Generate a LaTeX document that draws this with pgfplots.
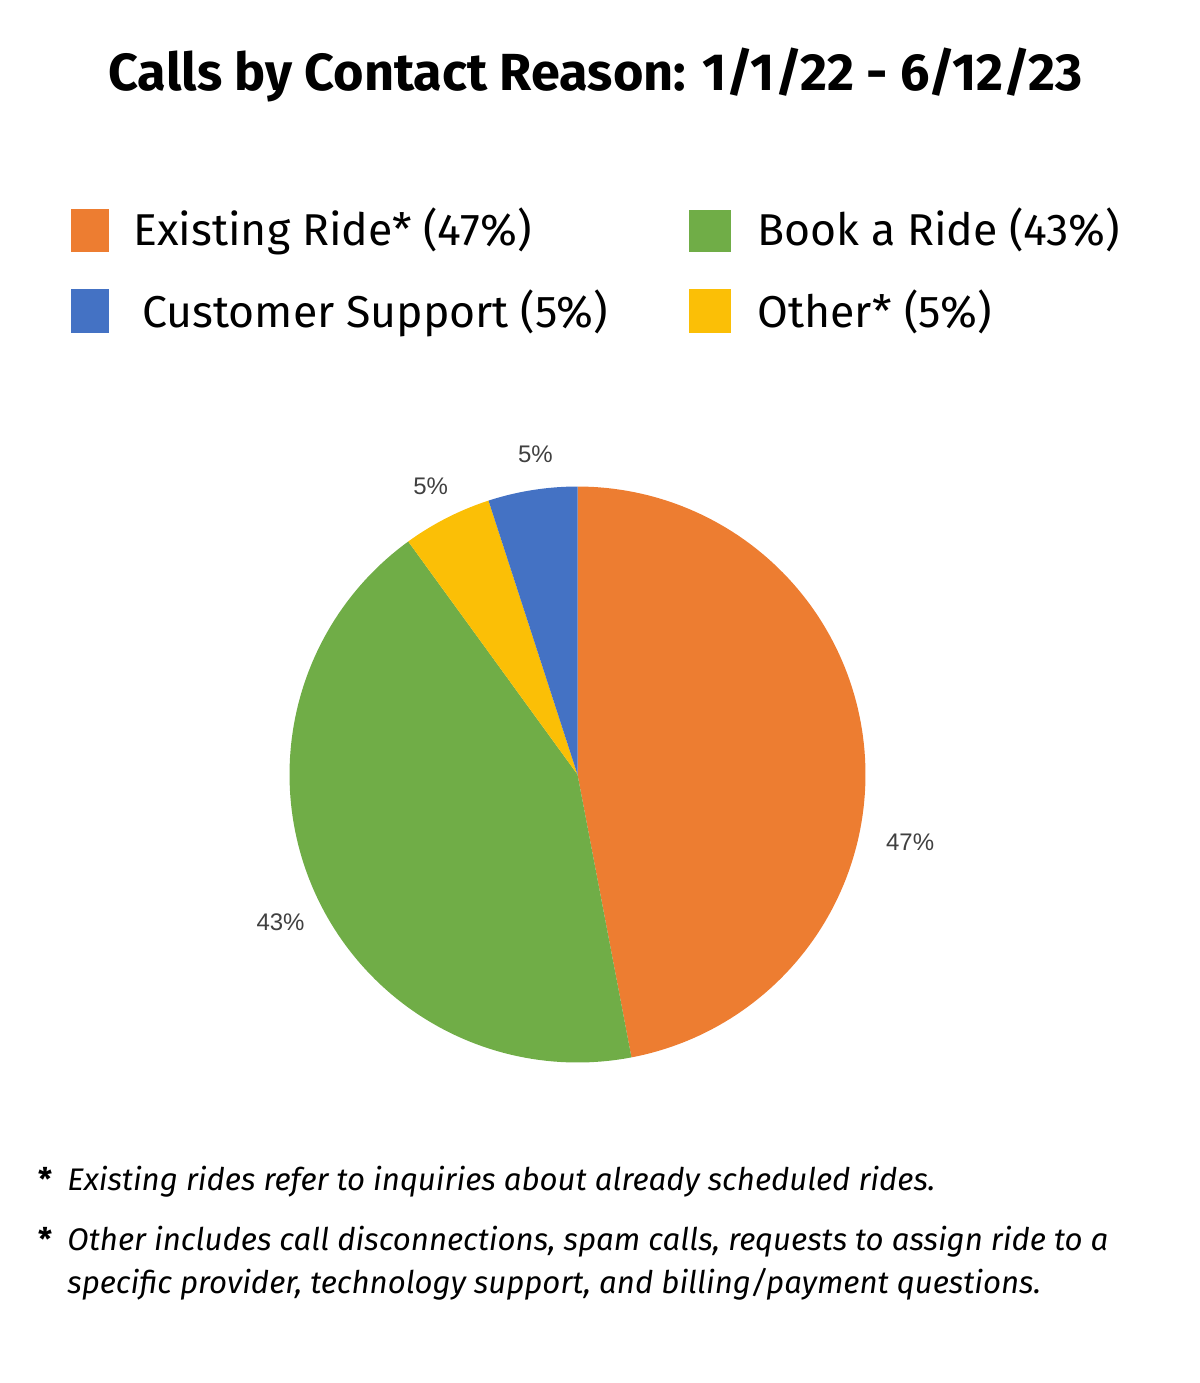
\documentclass[border=0pt]{standalone}
\usepackage{fontspec}
\setmainfont{Fira Sans}
\newfontfamily\labfont{Liberation Sans}
\usepackage{pgfplots}
\pgfplotsset{compat=1.18}
\definecolor{cOrange}{HTML}{ED7D31}
\definecolor{cGreen}{HTML}{70AD47}
\definecolor{cBlue}{HTML}{4472C4}
\definecolor{cYellow}{HTML}{FBBF06}
\definecolor{cLab}{HTML}{404040}
% values (percent)
\def\vExisting{47}
\def\vBook{43}
\def\vOther{5}
\def\vSupport{5}
\begin{document}
\begin{tikzpicture}
\path (0,0) rectangle (600bp,-691.5bp);
% title
\node[anchor=base, inner sep=0pt, font=\fontsize{26.1bp}{30bp}\selectfont\bfseries] at (297.75bp,-45bp) {Calls by Contact Reason: 1/1/22 - 6/12/23};
% legend
\fill[cOrange] (35.5bp,-104.5bp) rectangle (54.5bp,-126bp);
\fill[cBlue] (35.5bp,-144.5bp) rectangle (54.5bp,-166.5bp);
\fill[cGreen] (344.5bp,-105bp) rectangle (365.5bp,-126bp);
\fill[cYellow] (344.5bp,-144.5bp) rectangle (365.5bp,-166.5bp);
\begin{scope}[every node/.style={anchor=base west, inner sep=0pt, font=\fontsize{22.3bp}{26bp}\selectfont}]
\node at (66.5bp,-122.5bp) {Existing Ride* (47\%)};
\node at (71bp,-163.5bp) {Customer Support (5\%)};
\node at (378.5bp,-122.5bp) {Book a Ride (43\%)};
\node at (378.5bp,-163.5bp) {Other* (5\%)};
\end{scope}
% footnotes
\begin{scope}[every node/.style={anchor=base west, inner sep=0pt, font=\fontsize{15.6bp}{18bp}\selectfont\itshape}]
\node[font=\fontsize{15.6bp}{18bp}\selectfont\bfseries\upshape] at (19bp,-595bp) {*};
\node at (33.5bp,-595bp) {Existing rides refer to inquiries about already scheduled rides.};
\node[font=\fontsize{15.6bp}{18bp}\selectfont\bfseries\upshape] at (19bp,-625bp) {*};
\node at (33.5bp,-625bp) {Other includes call disconnections, spam calls, requests to assign ride to a};
\node at (33.5bp,-646.5bp) {specific provider, technology support, and billing/payment questions.};
\end{scope}
\pgfmathsetmacro{\aA}{90}
\pgfmathsetmacro{\aB}{\aA-3.6*\vExisting}
\pgfmathsetmacro{\aC}{\aB-3.6*\vBook}
\pgfmathsetmacro{\aD}{\aC-3.6*\vOther}
\pgfmathsetmacro{\aE}{\aD-3.6*\vSupport}
\begin{axis}[at={(288.75bp,-387.25bp)}, anchor=center, width=288bp, height=288bp,
  scale only axis, xmin=-1, xmax=1, ymin=-1, ymax=1, hide axis, clip=false]
\addplot[fill=cOrange, draw=none, domain=\aB:\aA, samples=120, variable=\t] ({cos(\t)},{sin(\t)}) -- (axis cs:0,0) -- cycle;
\addplot[fill=cGreen, draw=none, domain=\aC:\aB, samples=110, variable=\t] ({cos(\t)},{sin(\t)}) -- (axis cs:0,0) -- cycle;
\addplot[fill=cYellow, draw=none, domain=\aD:\aC, samples=20, variable=\t] ({cos(\t)},{sin(\t)}) -- (axis cs:0,0) -- cycle;
\addplot[fill=cBlue, draw=none, domain=\aE:\aD, samples=20, variable=\t] ({cos(\t)},{sin(\t)}) -- (axis cs:0,0) -- cycle;
\begin{scope}[every node/.style={text=cLab, font=\labfont\fontsize{12bp}{14bp}\selectfont, inner sep=0pt}]
\node at (axis cs:1.155,-0.236) {47\%};
\node at (axis cs:-1.031,-0.512) {43\%};
\node at (axis cs:-0.510,1.000) {5\%};
\node at (axis cs:-0.146,1.111) {5\%};
\end{scope}
\end{axis}
\end{tikzpicture}
\end{document}
